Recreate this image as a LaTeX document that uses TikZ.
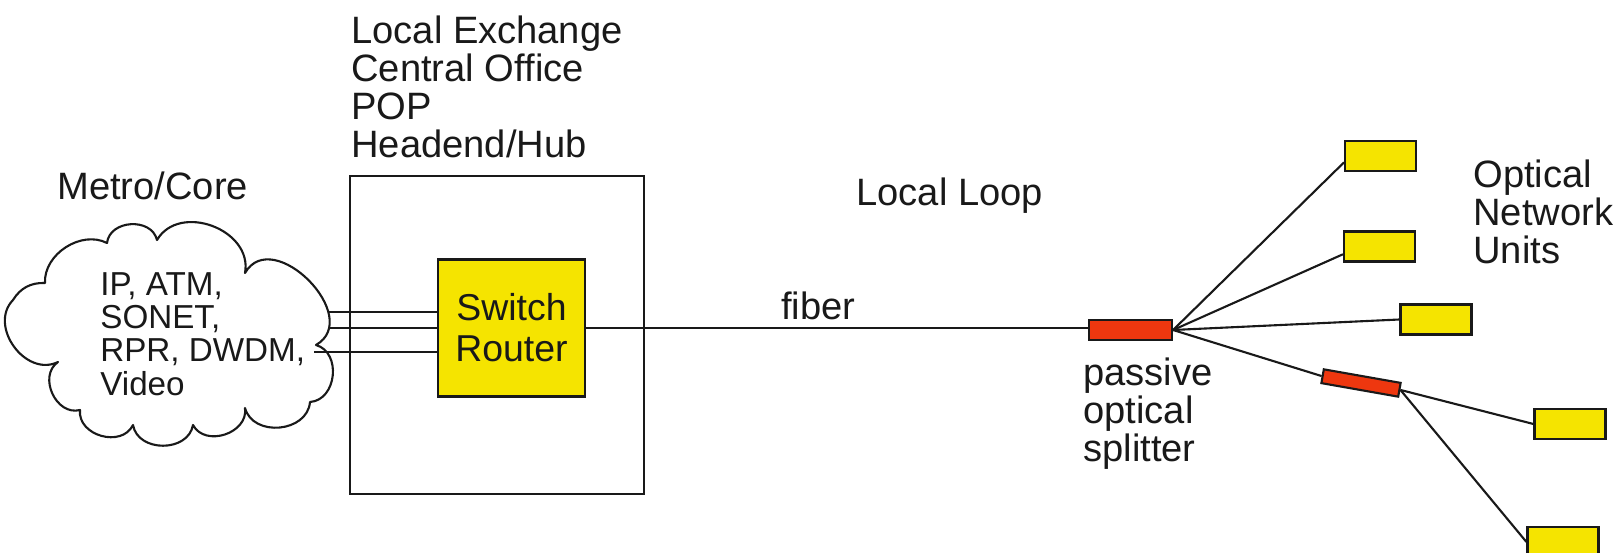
\documentclass[tikz,border=0pt]{standalone}
\usepackage{fontspec}
\setmainfont{Liberation Sans}
\newlength\pxu
\setlength\pxu{0.02cm}
\definecolor{onuyellow}{RGB}{245,228,0}
\definecolor{splitred}{RGB}{238,55,15}
\definecolor{inkline}{RGB}{25,25,25}
\tikzset{
  lbl/.style={inner sep=0pt, anchor=north west, align=left, text=inkline,
    font=\fontsize{21.7}{21.6}\selectfont},
  cloudtxt/.style={inner sep=0pt, anchor=north west, align=left, text=inkline,
    font=\fontsize{18.9}{19}\selectfont},
  thinline/.style={draw=inkline, line width=1.2pt},
  onu/.style={draw=inkline, line width=1.2pt, fill=onuyellow,
    minimum width=71\pxu, minimum height=30\pxu, inner sep=0pt},
  splitbox/.style={draw=inkline, line width=1.2pt, fill=splitred,
    minimum width=83\pxu, minimum height=20\pxu, inner sep=0pt},
  bump/.style={bend left=80, looseness=1.2},
}
\begin{document}
\begin{tikzpicture}[x=0.02cm, y=-0.02cm]
\useasboundingbox (0,0) rectangle (1619,553);

% cloud
\draw[thinline, line join=round]
  (13,300) to[bend left=30] (45,283)
  to[bend left=60] (107,243)
  to[bump] (157,240)
  to[bump] (245,273)
  to[out=60, in=30, looseness=1.4] (316,345)
  to[bump] (310,402)
  to[bump] (245,408)
  to[bump] (193,425)
  to[bump] (133,425)
  to[bump] (80,410)
  to[bump] (58,362)
  to[bump] (13,300) -- cycle;
\coordinate (cl1) at (329,312);
\coordinate (cl2) at (329,328);
\coordinate (cl3) at (314,352);

\node[cloudtxt] (cloudlbl) at (100,272) {IP, ATM,\\SONET,\\RPR, DWDM,\\Video};
\node[lbl] (metro) at (57,172) {Metro/Core};

% local exchange box
\node[draw=inkline, line width=1.5pt, minimum width=294\pxu, minimum height=318\pxu,
  inner sep=0pt] (lex) at (497,335) {};
\node[lbl] (lexlbl) at (351,16) {Local Exchange\\Central Office\\POP\\Headend/Hub};

\node[draw=inkline, line width=1.2pt, fill=onuyellow, minimum width=147\pxu,
  minimum height=137\pxu, inner sep=0pt, align=center, text=inkline,
  font=\fontsize{21.3}{23.3}\selectfont] (sw) at (511.5,328) {Switch\\Router};

\draw[thinline] (cl1) -- (cl1 -| sw.west);
\draw[thinline] (cl2) -- (cl2 -| sw.west);
\draw[thinline] (cl3) -- (cl3 -| sw.west);

% local loop
\node[lbl] (loop) at (856,178) {Local Loop};
\node[lbl] (fiberlbl) at (781,292) {fiber};

\node[splitbox] (sp1) at (1130.5,330) {};
\draw[thinline] (sw.east) -- (sw.east -| sp1.west);
\node[lbl] (splbl) at (1083,358) {passive\\optical\\splitter};

\node[splitbox, rotate=-10, minimum width=78\pxu, minimum height=14\pxu] (sp2) at (1361,383) {};

\node[onu] (onu1) at (1380.5,156) {};
\node[onu] (onu2) at (1379.5,246.5) {};
\node[onu] (onu3) at (1436,319.5) {};
\node[onu] (onu4) at (1570,424) {};
\node[onu] (onu5) at (1563,542) {};

\draw[thinline] (sp1.east) -- (onu1.190);
\draw[thinline] (sp1.east) -- (onu2.192);
\draw[thinline] (sp1.east) -- (onu3.west);
\draw[thinline] (sp1.east) -- (sp2.west);
\draw[thinline] (sp2.east) -- (onu4.west);
\draw[thinline] (sp2.east) -- (onu5.west);

\node[lbl] (onulbl) at (1473,160) {Optical\\Network\\Units};
\end{tikzpicture}
\end{document}
